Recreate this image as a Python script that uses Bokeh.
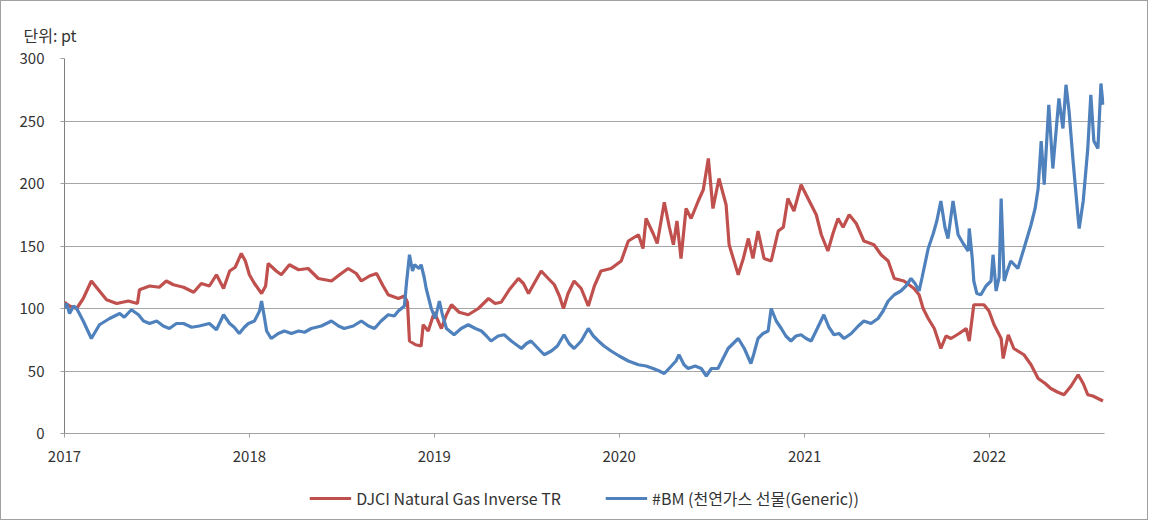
import pandas as pd
from bokeh.plotting import figure
from bokeh.layouts import column
from bokeh.models import (Legend, LegendItem, FixedTicker, DatetimeTickFormatter,
                          Range1d, ColumnDataSource)
from bokeh.embed import file_html
from bokeh.resources import INLINE

unit_label = "단위: pt"
series_names = ["DJCI Natural Gas Inverse TR", "#BM (천연가스 선물(Generic))"]
y_ticks = [0, 50, 100, 150, 200, 250, 300]
year_ticks = [2017, 2018, 2019, 2020, 2021, 2022]

red_dates = [
    "2017-01-01", "2017-01-11", "2017-01-25", "2017-02-07", "2017-02-23", "2017-03-09",
    "2017-03-25", "2017-04-14", "2017-05-07", "2017-05-25", "2017-05-29", "2017-06-18",
    "2017-07-07", "2017-07-21", "2017-08-04", "2017-08-24", "2017-09-13", "2017-09-28",
    "2017-10-14", "2017-10-28", "2017-11-11", "2017-11-23", "2017-12-04", "2017-12-16",
    "2017-12-24", "2018-01-01", "2018-01-11", "2018-01-25", "2018-02-02", "2018-02-07",
    "2018-02-23", "2018-03-05", "2018-03-21", "2018-04-08", "2018-04-27", "2018-05-17",
    "2018-06-12", "2018-06-28", "2018-07-15", "2018-07-31", "2018-08-10", "2018-08-26",
    "2018-09-09", "2018-09-22", "2018-10-02", "2018-10-22", "2018-11-03", "2018-11-09",
    "2018-11-13", "2018-11-25", "2018-12-06", "2018-12-10", "2018-12-20", "2019-01-01",
    "2019-01-15", "2019-01-25", "2019-02-04", "2019-02-19", "2019-03-09", "2019-03-29",
    "2019-04-18", "2019-05-01", "2019-05-13", "2019-05-29", "2019-06-16", "2019-06-26",
    "2019-07-06", "2019-07-17", "2019-07-31", "2019-08-14", "2019-08-26", "2019-09-05",
    "2019-09-13", "2019-09-22", "2019-10-04", "2019-10-18", "2019-11-01", "2019-11-13",
    "2019-11-26", "2019-12-16", "2020-01-05", "2020-01-19", "2020-02-08", "2020-02-17",
    "2020-02-23", "2020-03-08", "2020-03-16", "2020-03-30", "2020-04-09", "2020-04-17",
    "2020-04-24", "2020-05-02", "2020-05-12", "2020-05-22", "2020-06-05", "2020-06-15",
    "2020-06-25", "2020-07-04", "2020-07-16", "2020-07-30", "2020-08-05", "2020-08-23",
    "2020-09-02", "2020-09-12", "2020-09-21", "2020-10-01", "2020-10-13", "2020-10-27",
    "2020-11-10", "2020-11-20", "2020-11-29", "2020-12-11", "2020-12-25", "2021-01-14",
    "2021-01-24", "2021-02-03", "2021-02-16", "2021-02-26", "2021-03-08", "2021-03-18",
    "2021-03-30", "2021-04-13", "2021-04-28", "2021-05-18", "2021-06-01", "2021-06-15",
    "2021-06-27", "2021-07-16", "2021-08-05", "2021-08-15", "2021-08-23", "2021-09-02",
    "2021-09-14", "2021-09-27", "2021-10-07", "2021-10-17", "2021-11-02", "2021-11-16",
    "2021-11-22", "2021-12-01", "2021-12-21", "2021-12-31", "2022-01-10", "2022-01-24",
    "2022-01-28", "2022-02-07", "2022-02-18", "2022-03-10", "2022-03-24", "2022-04-07",
    "2022-04-21", "2022-05-02", "2022-05-16", "2022-05-28", "2022-06-11", "2022-06-25",
    "2022-07-05", "2022-07-14", "2022-07-24", "2022-08-03", "2022-08-13",
]
red_values = [
    105, 102, 100, 108, 122, 115,
    107, 104, 106, 104, 115, 118,
    117, 122, 119, 117, 113, 120,
    118, 127, 116, 130, 133, 144,
    138, 127, 120, 112, 118, 136,
    130, 127, 135, 131, 132, 124,
    122, 127, 132, 128, 122, 126,
    128, 118, 111, 108, 110, 105,
    74, 71, 70, 87, 82, 97,
    84, 95, 103, 97, 95, 100,
    108, 104, 105, 115, 124, 120,
    112, 120, 130, 124, 119, 110,
    100, 112, 122, 116, 102, 118,
    130, 132, 138, 154, 159, 148,
    172, 160, 152, 185, 165, 151,
    170, 140, 180, 172, 186, 195,
    220, 180, 204, 183, 151, 127,
    140, 156, 140, 162, 140, 138,
    162, 165, 188, 178, 199, 183,
    175, 159, 146, 160, 172, 165,
    175, 168, 154, 151, 143, 138,
    124, 122, 116, 111, 100, 92,
    84, 68, 78, 76, 80, 84,
    74, 103, 103, 98, 87, 76,
    60, 79, 68, 63, 55, 44,
    40, 36, 33, 31, 38, 47,
    40, 31, 30, 28, 26,
]

blue_dates = [
    "2017-01-01", "2017-01-05", "2017-01-11", "2017-01-19", "2017-01-25", "2017-02-07",
    "2017-02-23", "2017-03-11", "2017-03-31", "2017-04-20", "2017-04-29", "2017-05-13",
    "2017-05-27", "2017-06-06", "2017-06-18", "2017-07-02", "2017-07-15", "2017-07-27",
    "2017-08-10", "2017-08-24", "2017-09-09", "2017-09-24", "2017-10-14", "2017-10-28",
    "2017-11-11", "2017-11-23", "2017-12-02", "2017-12-12", "2017-12-22", "2017-12-30",
    "2018-01-11", "2018-01-21", "2018-01-25", "2018-01-31", "2018-02-04", "2018-02-13",
    "2018-02-27", "2018-03-11", "2018-03-25", "2018-04-08", "2018-04-20", "2018-05-03",
    "2018-05-23", "2018-06-12", "2018-06-26", "2018-07-07", "2018-07-25", "2018-08-10",
    "2018-08-24", "2018-09-05", "2018-09-18", "2018-10-02", "2018-10-14", "2018-10-22",
    "2018-11-03", "2018-11-07", "2018-11-13", "2018-11-19", "2018-11-23", "2018-12-02",
    "2018-12-06", "2018-12-12", "2018-12-16", "2018-12-26", "2019-01-03", "2019-01-11",
    "2019-01-17", "2019-01-25", "2019-02-09", "2019-02-23", "2019-03-09", "2019-03-23",
    "2019-04-04", "2019-04-14", "2019-04-23", "2019-05-07", "2019-05-19", "2019-06-02",
    "2019-06-22", "2019-07-02", "2019-07-11", "2019-07-25", "2019-08-06", "2019-08-20",
    "2019-09-01", "2019-09-14", "2019-09-24", "2019-10-04", "2019-10-18", "2019-11-01",
    "2019-11-11", "2019-11-21", "2019-12-02", "2019-12-16", "2020-01-01", "2020-01-19",
    "2020-02-08", "2020-02-23", "2020-03-08", "2020-03-20", "2020-03-30", "2020-04-13",
    "2020-04-22", "2020-04-28", "2020-05-08", "2020-05-16", "2020-05-30", "2020-06-11",
    "2020-06-21", "2020-07-01", "2020-07-14", "2020-07-24", "2020-08-03", "2020-08-13",
    "2020-08-23", "2020-09-04", "2020-09-17", "2020-09-23", "2020-10-01", "2020-10-11",
    "2020-10-21", "2020-10-27", "2020-11-06", "2020-11-16", "2020-11-25", "2020-12-05",
    "2020-12-15", "2020-12-25", "2021-01-04", "2021-01-14", "2021-01-26", "2021-02-08",
    "2021-02-18", "2021-02-28", "2021-03-10", "2021-03-20", "2021-04-03", "2021-04-17",
    "2021-04-28", "2021-05-12", "2021-05-26", "2021-06-05", "2021-06-15", "2021-06-27",
    "2021-07-10", "2021-07-20", "2021-07-30", "2021-08-07", "2021-08-15", "2021-08-21",
    "2021-09-02", "2021-09-12", "2021-09-19", "2021-09-27", "2021-10-05", "2021-10-11",
    "2021-10-21", "2021-10-31", "2021-11-10", "2021-11-20", "2021-11-22", "2021-11-28",
    "2021-12-01", "2021-12-07", "2021-12-15", "2021-12-25", "2022-01-04", "2022-01-08",
    "2022-01-14", "2022-01-20", "2022-01-24", "2022-01-30", "2022-02-05", "2022-02-12",
    "2022-02-26", "2022-03-10", "2022-03-24", "2022-04-01", "2022-04-07", "2022-04-13",
    "2022-04-19", "2022-04-28", "2022-05-06", "2022-05-12", "2022-05-18", "2022-05-26",
    "2022-06-01", "2022-06-07", "2022-06-15", "2022-06-25", "2022-06-27", "2022-07-05",
    "2022-07-14", "2022-07-20", "2022-07-26", "2022-08-03", "2022-08-09", "2022-08-13",
]
blue_values = [
    100, 104, 96, 102, 100, 90,
    76, 87, 92, 96, 93, 99,
    95, 90, 88, 90, 86, 84,
    88, 88, 85, 86, 88, 83,
    95, 88, 85, 80, 85, 88,
    90, 98, 106, 92, 82, 76,
    80, 82, 80, 82, 81, 84,
    86, 90, 86, 84, 86, 90,
    86, 84, 90, 95, 94, 98,
    102, 120, 143, 130, 135, 132,
    135, 125, 116, 100, 92, 106,
    95, 84, 79, 84, 87, 84,
    82, 78, 74, 78, 79, 74,
    68, 72, 74, 68, 63, 66,
    70, 79, 72, 68, 74, 84,
    78, 74, 70, 66, 62, 58,
    55, 54, 52, 50, 48, 54,
    58, 63, 55, 52, 54, 52,
    46, 52, 52, 60, 68, 72,
    76, 68, 56, 64, 76, 80,
    82, 100, 90, 84, 78, 74,
    78, 79, 76, 74, 84, 95,
    85, 79, 80, 76, 80, 86,
    90, 88, 92, 98, 106, 111,
    114, 118, 124, 120, 114, 125,
    148, 160, 170, 186, 165, 156,
    186, 159, 152, 146, 164, 140,
    122, 112, 111, 118, 122, 143,
    114, 125, 188, 122, 130, 138,
    132, 148, 167, 180, 196, 234,
    199, 263, 212, 240, 268, 244,
    279, 258, 218, 172, 164, 186,
    228, 271, 234, 228, 280, 263,
]

red_src = ColumnDataSource(dict(x=pd.to_datetime(red_dates), y=red_values))
blue_src = ColumnDataSource(dict(x=pd.to_datetime(blue_dates), y=blue_values))

FONT = "Noto Sans CJK KR"
TXT = "#333333"
RED = "#C0504D"
BLUE = "#4F81BD"
W = 1146

x_start, x_end = pd.Timestamp("2017-01-01"), pd.Timestamp("2022-08-16")

p = figure(width=W, height=475, x_axis_type="datetime",
           output_backend="svg", toolbar_location=None,
           x_range=Range1d(x_start, x_end), y_range=Range1d(0, 300),
           min_border_left=63, min_border_right=43,
           min_border_top=57, min_border_bottom=43)
p.outline_line_color = None
p.background_fill_color = "white"
p.border_fill_color = "white"

p.title.text = unit_label
p.title.text_font = FONT
p.title.text_font_size = "16px"
p.title.text_font_style = "normal"
p.title.text_color = TXT
p.title.align = "left"
p.title.vertical_align = "top"
p.title.offset = -41
p.title.standoff = 20

r1 = p.line("x", "y", source=red_src, line_color=RED, line_width=3.2)
r2 = p.line("x", "y", source=blue_src, line_color=BLUE, line_width=3.2)

tick_ms = [pd.Timestamp(f"{yr}-01-01").value // 10**6 for yr in year_ticks]
p.xaxis.ticker = FixedTicker(ticks=tick_ms)
p.xaxis.formatter = DatetimeTickFormatter(years="%Y", months="%Y", days="%Y",
                                          hours="%Y", minutes="%Y", seconds="%Y",
                                          milliseconds="%Y", microseconds="%Y")
p.yaxis.ticker = FixedTicker(ticks=y_ticks)

for ax in (p.xaxis[0], p.yaxis[0]):
    ax.major_label_text_font = FONT
    ax.major_label_text_font_size = "15px"
    ax.major_label_text_color = TXT
    ax.minor_tick_line_color = None
    ax.major_tick_in = 0
    ax.major_tick_out = 4

p.xaxis.axis_line_color = "#a0a0a0"
p.xaxis.major_tick_line_color = "#a0a0a0"
p.xaxis.major_label_standoff = 13
p.yaxis.axis_line_color = "#7f7f7f"
p.yaxis.major_tick_line_color = "#a0a0a0"
p.yaxis.major_label_standoff = 16

p.xgrid.grid_line_color = None
p.ygrid.grid_line_color = "#a6a6a6"
p.ygrid.grid_line_width = 1.2

# legend strip below the chart (series drawn outside its visible range)
lg = figure(width=W, height=43, output_backend="svg", toolbar_location=None,
            x_axis_type="datetime", x_range=Range1d(x_start, x_end),
            y_range=Range1d(1000, 1001),
            min_border_left=0, min_border_right=0, min_border_top=0, min_border_bottom=0)
lg.axis.visible = False
lg.grid.visible = False
lg.outline_line_color = None
lg.border_fill_color = "white"
l1 = lg.line("x", "y", source=red_src, line_color=RED, line_width=3.2)
l2 = lg.line("x", "y", source=blue_src, line_color=BLUE, line_width=3.2)

legend = Legend(items=[LegendItem(label=series_names[0], renderers=[l1]),
                       LegendItem(label=series_names[1], renderers=[l2])],
                orientation="horizontal", location="center")
legend.label_text_font = FONT
legend.label_text_font_size = "16px"
legend.label_text_color = TXT
legend.glyph_width = 42
legend.glyph_height = 16
legend.label_standoff = 5
legend.spacing = 44
legend.padding = 2
legend.margin = 0
legend.border_line_color = None
legend.background_fill_alpha = 0
lg.add_layout(legend)

layout = column(p, lg, spacing=0, styles={"border": "1px solid #a0a0a0"})

open("out.html", "w").write(file_html(layout, INLINE))
